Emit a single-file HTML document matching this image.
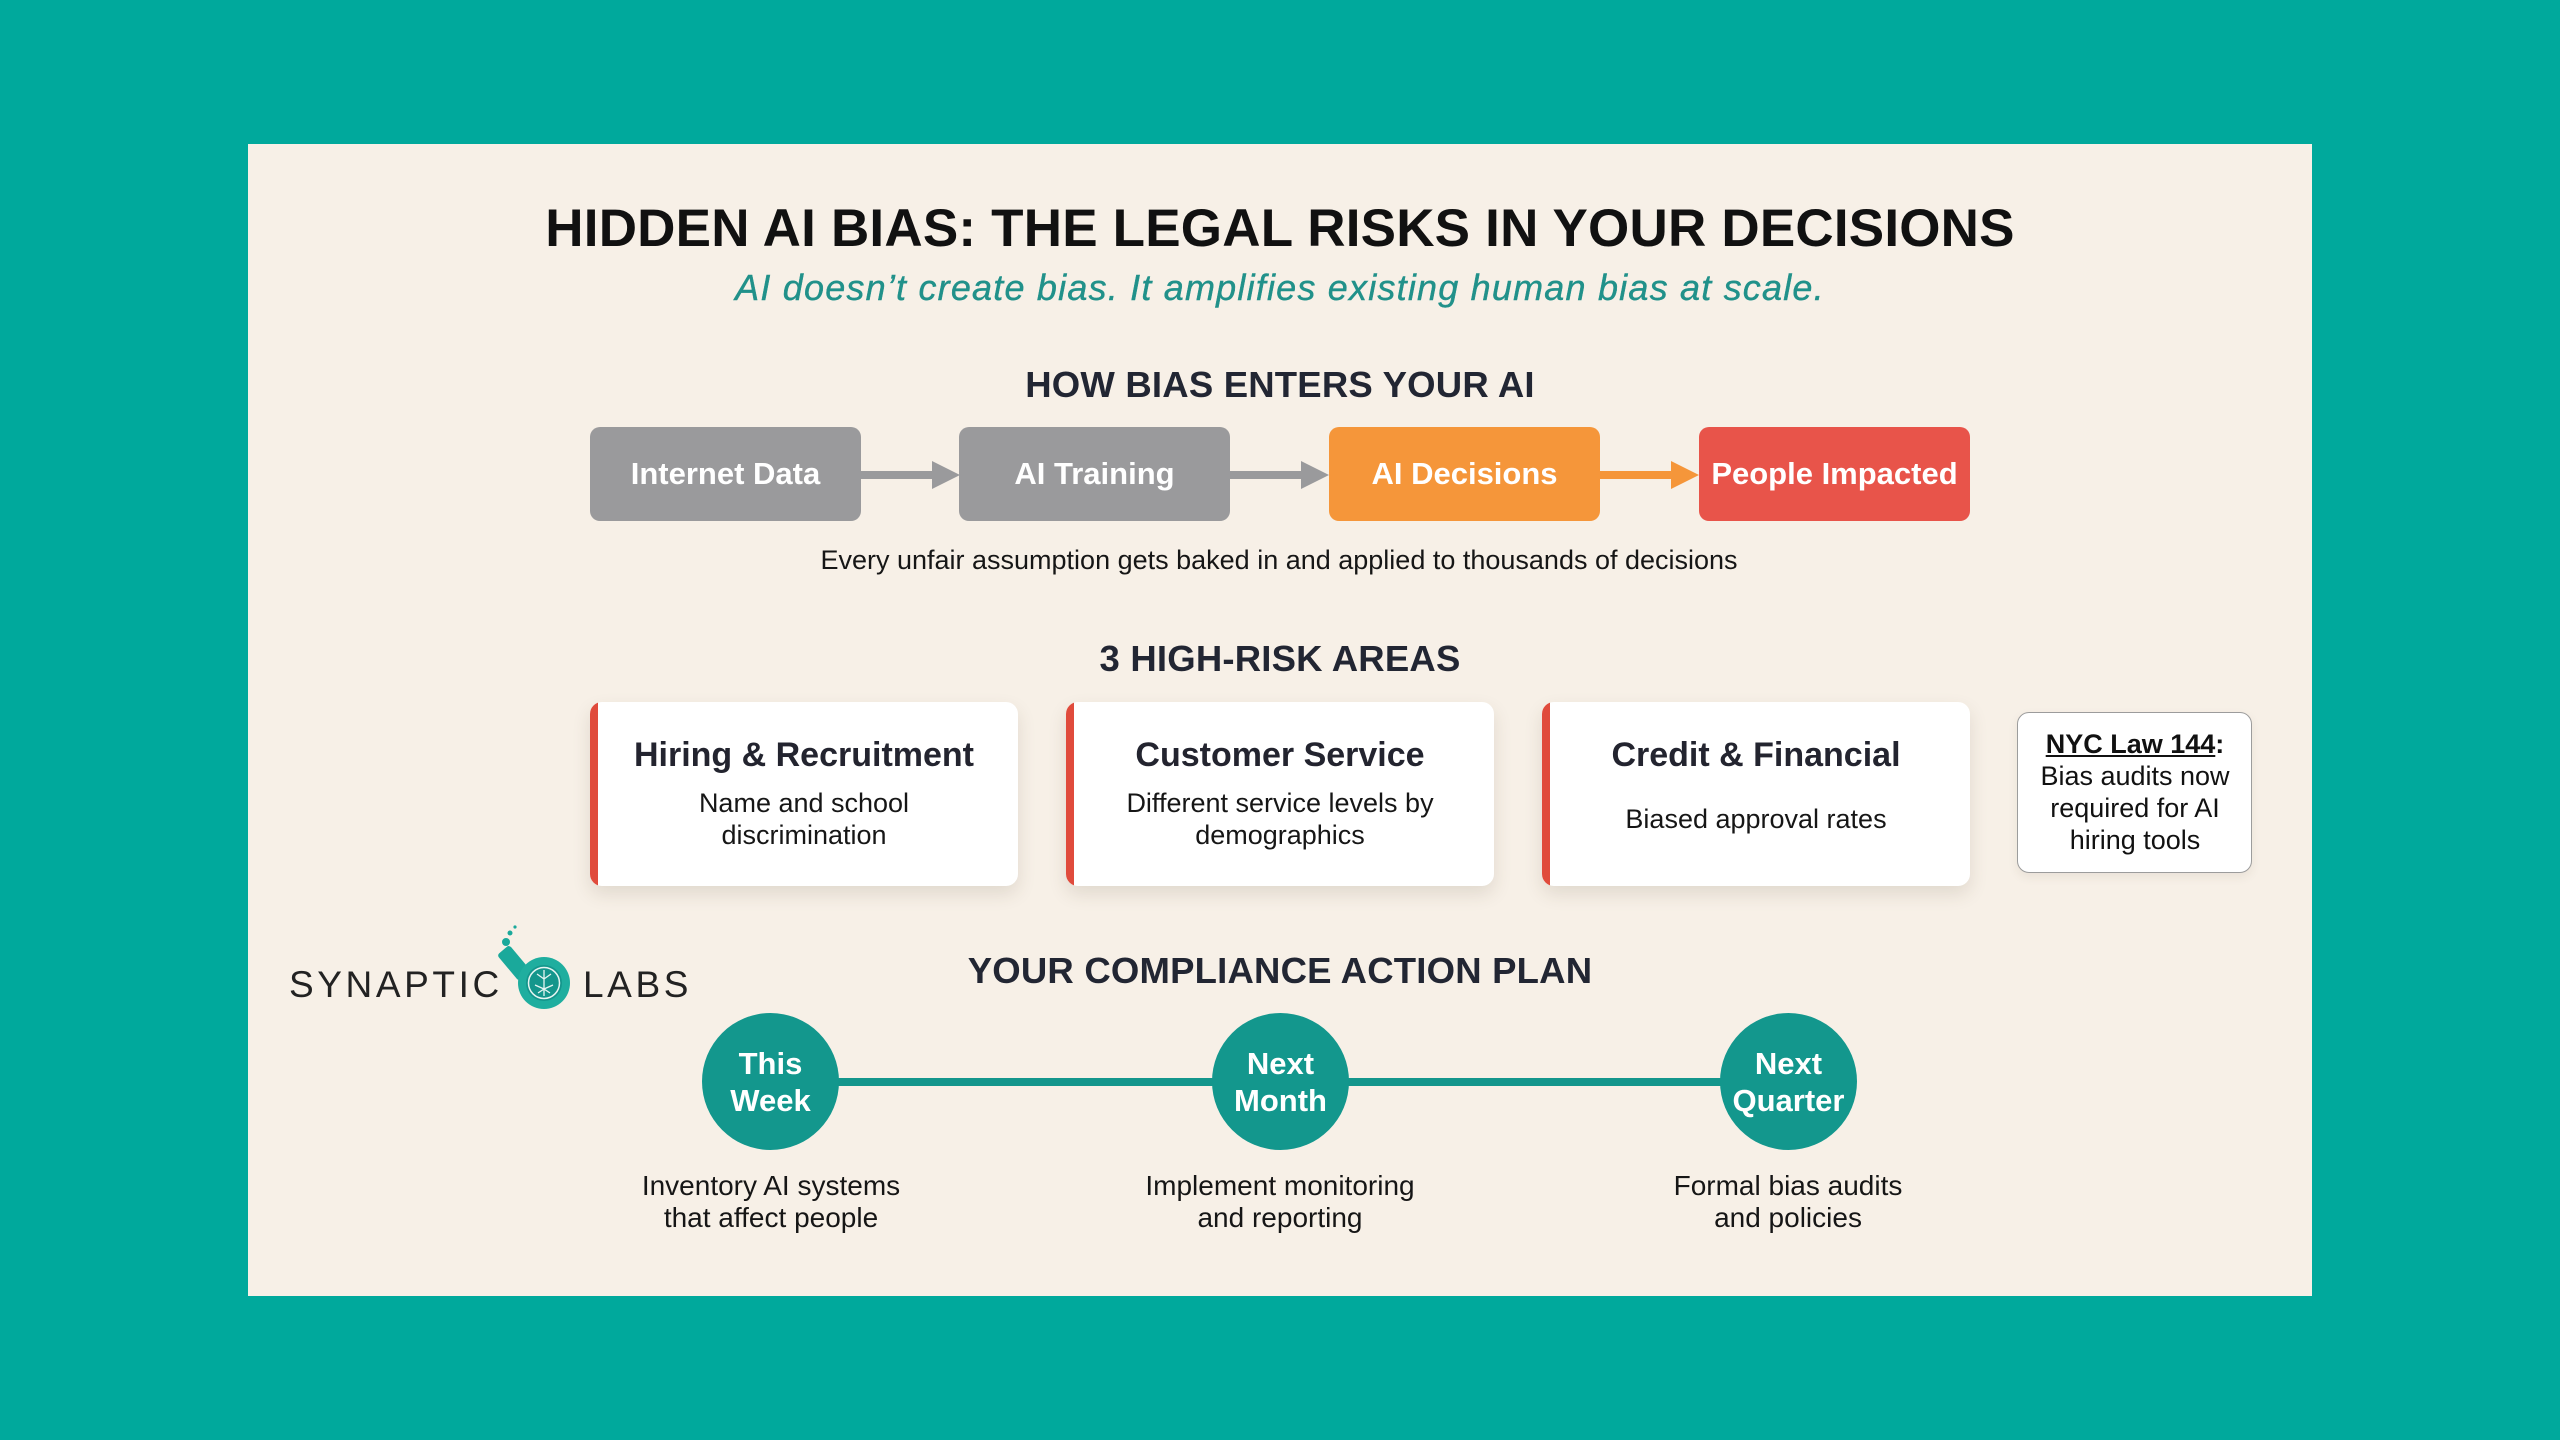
<!DOCTYPE html>
<html>
<head>
<meta charset="utf-8">
<style>
  html, body { margin:0; padding:0; }
  body { width:2560px; height:1440px; background:#00a99c; position:relative; overflow:hidden; font-family:"Liberation Sans", Arial, sans-serif; }
  .sheet { position:absolute; left:248px; top:144px; width:2064px; height:1152px; background:#f7f0e7; }
  .t { position:absolute; white-space:nowrap; }
  .center { transform:translateX(-50%); text-align:center; }
  .h2 { font-weight:bold; font-size:36.5px; line-height:36.5px; color:#222633; letter-spacing:0.2px; }
  .box { position:absolute; top:427px; width:271px; height:94px; border-radius:10px; color:#fff; font-weight:bold; font-size:31px; display:flex; align-items:center; justify-content:center; }
  .card { position:absolute; top:702px; width:428px; height:184px; background:#fff; border-radius:12px; box-shadow:0 8px 18px rgba(80,60,40,0.13); overflow:hidden; }
  .card .bar { position:absolute; left:0; top:0; bottom:0; width:8px; background:#e04b3c; }
  .ctitle { position:absolute; left:0; width:100%; text-align:center; top:36px; font-weight:bold; font-size:34px; line-height:34px; color:#23242f; }
  .cdesc { position:absolute; left:0; width:100%; text-align:center; top:85px; font-size:27px; line-height:32px; color:#161616; }
  .circle { position:absolute; top:1013px; width:137px; height:137px; border-radius:50%; background:#13978d; color:#fff; font-weight:bold; font-size:31px; line-height:37px; display:flex; align-items:center; justify-content:center; text-align:center; }
  .pdesc { position:absolute; top:1170px; width:420px; text-align:center; font-size:28px; line-height:32px; color:#161616; }
</style>
</head>
<body>
<div class="sheet"></div>

<!-- Title -->
<div class="t center" style="left:1280px; top:202px; font-weight:bold; font-size:53px; line-height:53px; color:#111; letter-spacing:0.2px;">HIDDEN AI BIAS: THE LEGAL RISKS IN YOUR DECISIONS</div>
<div class="t center" style="left:1280px; top:270px; font-style:italic; font-size:36px; line-height:36px; color:#21918a; letter-spacing:1.2px; -webkit-text-stroke:0.4px #21918a;">AI doesn’t create bias. It amplifies existing human bias at scale.</div>

<!-- How bias enters -->
<div class="t center h2" style="left:1280px; top:367px;">HOW BIAS ENTERS YOUR AI</div>

<div class="box" style="left:590px; background:#9a9a9c;">Internet Data</div>
<div class="box" style="left:959px; background:#9a9a9c;">AI Training</div>
<div class="box" style="left:1329px; background:#f5963a;">AI Decisions</div>
<div class="box" style="left:1699px; background:#e8544a;">People Impacted</div>

<svg style="position:absolute; left:0; top:0;" width="2560" height="1440">
  <!-- arrows -->
  <rect x="861" y="471" width="73" height="8" fill="#9a9a9c"/>
  <polygon points="932,461 960,475 932,489" fill="#9a9a9c"/>
  <rect x="1230" y="471" width="73" height="8" fill="#9a9a9c"/>
  <polygon points="1301,461 1329,475 1301,489" fill="#9a9a9c"/>
  <rect x="1600" y="471" width="73" height="8" fill="#f5963a"/>
  <polygon points="1671,461 1699,475 1671,489" fill="#f5963a"/>
  <!-- timeline -->
  <rect x="770" y="1078" width="1018" height="8" fill="#14968c"/>
  <!-- logo flask -->
  <g>
    <rect x="506" y="946" width="16" height="34" rx="3" fill="#1aa99b" transform="rotate(-40 514 963)"/>
    <circle cx="544" cy="983" r="26" fill="#1fae9f"/>
    <circle cx="544" cy="983" r="18" fill="#14968c"/>
    <circle cx="544" cy="983" r="15.5" fill="none" stroke="#e6f5f2" stroke-width="1.5"/>
    <path d="M544 970 V996 M537 974 L544 979 L551 974 M535 985 L544 989 L553 985 M538 993 L544 989 L550 993" stroke="#e6f5f2" stroke-width="1.3" fill="none"/>
    <circle cx="506" cy="942" r="4" fill="#1aa99b"/>
    <circle cx="510" cy="933" r="2.5" fill="#1aa99b"/>
    <circle cx="515" cy="927" r="1.6" fill="#1aa99b"/>
  </g>
</svg>

<div class="t center" style="left:1279px; top:547px; font-size:27px; line-height:27px; color:#161616;">Every unfair assumption gets baked in and applied to thousands of decisions</div>

<!-- High risk -->
<div class="t center h2" style="left:1280px; top:641px;">3 HIGH-RISK AREAS</div>

<div class="card" style="left:590px;"><div class="bar"></div>
  <div class="ctitle">Hiring &amp; Recruitment</div>
  <div class="cdesc">Name and school<br>discrimination</div>
</div>
<div class="card" style="left:1066px;"><div class="bar"></div>
  <div class="ctitle">Customer Service</div>
  <div class="cdesc">Different service levels by<br>demographics</div>
</div>
<div class="card" style="left:1542px;"><div class="bar"></div>
  <div class="ctitle">Credit &amp; Financial</div>
  <div class="cdesc" style="top:101px;">Biased approval rates</div>
</div>

<div style="position:absolute; left:2017px; top:712px; width:233px; height:159px; background:#fff; border:1.5px solid #9c9c9c; border-radius:12px; box-shadow:0 4px 10px rgba(80,60,40,0.08);"></div>
<div class="t" style="left:2017px; top:728px; width:236px; text-align:center; font-size:27px; line-height:32px; color:#111;"><b><u>NYC Law 144</u>:</b><br>Bias audits now<br>required for AI<br>hiring tools</div>

<!-- Logo -->
<div class="t" style="left:289px; top:966px; font-size:37px; line-height:37px; color:#222; letter-spacing:3.6px;">SYNAPTIC</div>
<div class="t" style="left:583px; top:966px; font-size:37px; line-height:37px; color:#222; letter-spacing:3.6px;">LABS</div>

<!-- Action plan -->
<div class="t center h2" style="left:1280px; top:953px;">YOUR COMPLIANCE ACTION PLAN</div>

<div class="circle" style="left:702px;">This<br>Week</div>
<div class="circle" style="left:1212px;">Next<br>Month</div>
<div class="circle" style="left:1720px;">Next<br>Quarter</div>

<div class="pdesc" style="left:561px;">Inventory AI systems<br>that affect people</div>
<div class="pdesc" style="left:1070px;">Implement monitoring<br>and reporting</div>
<div class="pdesc" style="left:1578px;">Formal bias audits<br>and policies</div>

</body>
</html>
